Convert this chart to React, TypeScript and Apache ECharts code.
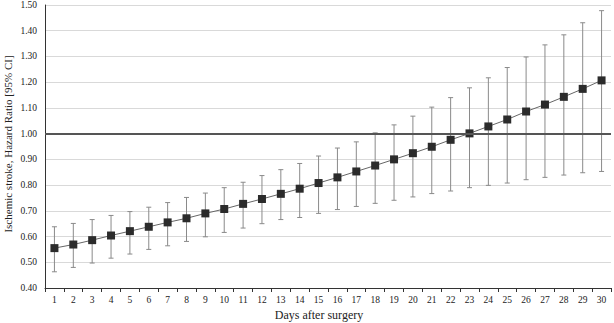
import React, { useEffect, useRef } from "react";
import * as echarts from "echarts";

const days = ["1","2","3","4","5","6","7","8","9","10","11","12","13","14","15","16","17","18","19","20","21","22","23","24","25","26","27","28","29","30"];
const hr = [0.555,0.569,0.586,0.604,0.621,0.638,0.655,0.671,0.690,0.707,0.727,0.746,0.766,0.786,0.808,0.830,0.853,0.876,0.900,0.924,0.949,0.976,1.001,1.028,1.055,1.086,1.113,1.143,1.174,1.207];
const upper = [0.638,0.651,0.666,0.682,0.697,0.714,0.732,0.752,0.769,0.790,0.811,0.837,0.860,0.884,0.913,0.944,0.968,1.003,1.034,1.068,1.103,1.140,1.178,1.217,1.257,1.298,1.345,1.384,1.431,1.478];
const lower = [0.463,0.480,0.497,0.516,0.532,0.550,0.564,0.581,0.599,0.616,0.633,0.650,0.666,0.674,0.690,0.705,0.717,0.729,0.741,0.754,0.767,0.777,0.790,0.799,0.808,0.821,0.830,0.839,0.848,0.853];
const refValue = 1.0;

export default function App() {
  const ref = useRef<HTMLDivElement>(null);
  useEffect(() => {
    document.body.style.margin = "0";
    const chart = echarts.init(ref.current!, null, { renderer: "svg" });
    const font = "'Liberation Serif', 'Times New Roman', serif";
    chart.setOption({
      animation: false,
      textStyle: { fontFamily: font },
      grid: { left: 45, right: 3, top: 5, bottom: 35 },
      xAxis: {
        type: "category",
        data: days,
        boundaryGap: true,
        axisLine: { lineStyle: { color: "#333", width: 1 } },
        axisTick: { show: true, length: 4, lineStyle: { color: "#333" } },
        axisLabel: { color: "#222", fontSize: 9.5, fontFamily: font, margin: 7, interval: 0 },
        splitLine: { show: false },
      },
      yAxis: {
        type: "value",
        min: 0.4,
        max: 1.5,
        interval: 0.1,
        axisLine: { show: true, lineStyle: { color: "#333", width: 1 } },
        axisTick: { show: false },
        axisLabel: { color: "#222", fontSize: 9.5, fontFamily: font, margin: 8, formatter: (v: number) => v.toFixed(2) },
        splitLine: { lineStyle: { color: "#d9d9d9", width: 1 } },
      },
      graphic: [
        { type: "text", x: 319, y: 315, style: { text: "Days after surgery", font: `12px ${font}`, fill: "#222", align: "center", verticalAlign: "middle" } },
        { type: "text", x: 8, y: 144, rotation: Math.PI / 2, style: { text: "Ischemic stroke, Hazard Ratio [95% CI]", font: `11px ${font}`, fill: "#222", align: "center", verticalAlign: "middle" } },
      ],
      series: [
        {
          type: "custom",
          z: 1,
          data: days.map((_, i) => [i, lower[i], upper[i]]),
          renderItem: (params: any, api: any) => {
            const x = api.value(0);
            const lo = api.coord([x, api.value(1)]);
            const hi = api.coord([x, api.value(2)]);
            const cap = 2.5;
            const style = { stroke: "#8a8a8a", lineWidth: 1 };
            return {
              type: "group",
              children: [
                { type: "line", shape: { x1: lo[0], y1: lo[1], x2: hi[0], y2: hi[1] }, style },
                { type: "line", shape: { x1: hi[0] - cap, y1: hi[1], x2: hi[0] + cap, y2: hi[1] }, style },
                { type: "line", shape: { x1: lo[0] - cap, y1: lo[1], x2: lo[0] + cap, y2: lo[1] }, style },
              ],
            };
          },
        },
        {
          type: "line",
          z: 3,
          data: hr,
          symbol: "rect",
          symbolSize: 8,
          itemStyle: { color: "#2b2b2b" },
          lineStyle: { color: "#666", width: 1 },
          markLine: {
            silent: true,
            symbol: "none",
            label: { show: false },
            lineStyle: { color: "#555", width: 2, type: "solid" },
            data: [{ yAxis: refValue }],
          },
        },
      ],
    });
    return () => chart.dispose();
  }, []);
  return <div ref={ref} style={{ width: 614, height: 323, position: "absolute", left: 0, top: 0 }} />;
}
